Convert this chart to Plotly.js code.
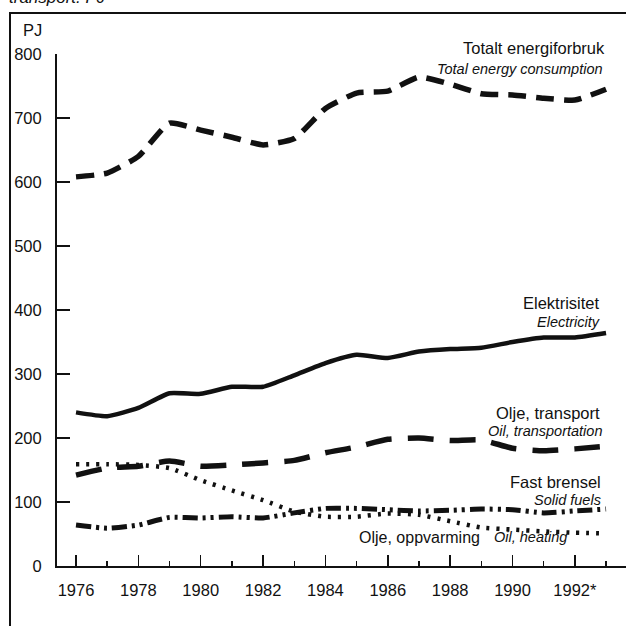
<!DOCTYPE html>
<html>
<head>
<meta charset="utf-8">
<script src="https://cdn.plot.ly/plotly-3.0.1.min.js"></script>
<style>
html,body{margin:0;padding:0;background:#fff;}
#chart{width:626px;height:626px;}
</style>
</head>
<body>
<div id="chart"></div>
<script>
// ---- data (PJ) ----
const years = [1976, 1977, 1978, 1979, 1980, 1981, 1982, 1983, 1984, 1985, 1986, 1987, 1988, 1989, 1990, 1991, 1992, 1993];
const totalEnergy = [608, 614, 640, 692, 681, 670, 658, 668, 715, 739, 742, 764, 753, 738, 736, 731, 728, 745];
const electricity = [240, 234, 247, 270, 269, 280, 280, 298, 317, 330, 325, 335, 339, 341, 350, 357, 357, 364];
const oilTransport = [142, 153, 156, 164, 156, 158, 161, 165, 177, 186, 198, 200, 196, 197, 184, 180, 183, 187];
const oilHeating = [159, 159, 158, 153, 134, 118, 103, 85, 77, 77, 82, 80, 70, 60, 57, 54, 52, 51];
const solidFuels = [64, 59, 64, 76, 75, 77, 75, 83, 90, 90, 88, 86, 87, 89, 88, 83, 86, 89];

const xTickVals = [1976, 1978, 1980, 1982, 1984, 1986, 1988, 1990, 1992];
const xTickText = ["1976", "1978", "1980", "1982", "1984", "1986", "1988", "1990", "1992*"];
const yTickVals = [0, 100, 200, 300, 400, 500, 600, 700, 800];
const yTickText = ["0", "100", "200", "300", "400", "500", "600", "700", "800"];

// ---- layout helpers (pixel -> paper) ----
const L = 57, T = 54, W = 569, H = 512;
const px = x => (x - L) / W;
const py = y => (T + H - y) / H;

const FONT = "Liberation Sans, Arial, sans-serif";
const INK = "#111";

function line(y, dash, width) {
  return {
    x: years, y: y, type: "scatter", mode: "lines",
    line: {color: INK, width: width, dash: dash, shape: "spline", smoothing: 0.5},
    hoverinfo: "skip"
  };
}

const data = [
  line(totalEnergy, "18px,10px", 5.5),
  line(electricity, "solid", 4.5),
  line(oilTransport, "26px,16px", 5.5),
  line(oilHeating, "3px,7px", 4.5),
  line(solidFuels, "15px,5px,3px,5px,3px,5px", 5)
];

function label(text, xr, yc, italic, size) {
  return {
    text: text, xref: "paper", yref: "paper", x: px(xr), y: py(yc),
    xanchor: "right", yanchor: "middle", showarrow: false,
    font: {family: FONT, size: size, color: INK, style: italic ? "italic" : "normal"}
  };
}

const annotations = [
  label("Totalt energiforbruk", 607, 48, false, 16.5),
  label("Total energy consumption", 605, 69, true, 14.5),
  label("Elektrisitet", 602, 303, false, 16.5),
  label("Electricity", 602, 322, true, 14.5),
  label("Olje, transport", 602, 413, false, 16.5),
  label("Oil, transportation", 604, 431, true, 14.5),
  label("Fast brensel", 603, 482, false, 16.5),
  label("Solid fuels", 603, 500, true, 14.5),
  label("Olje, oppvarming", 482, 537, false, 16),
  label("Oil, heating", 569, 537, true, 14.5),
  {
    text: "PJ", xref: "paper", yref: "paper", x: px(21), y: py(30),
    xanchor: "left", yanchor: "middle", showarrow: false,
    font: {family: FONT, size: 16.5, color: INK}
  },
  {
    text: "transport. PJ", xref: "paper", yref: "paper", x: px(7), y: py(-3),
    xanchor: "left", yanchor: "middle", showarrow: false,
    font: {family: FONT, size: 17, color: INK, style: "italic"}
  }
];

const shapes = [
  {type: "line", xref: "paper", yref: "paper", x0: px(10), x1: px(10), y0: py(13), y1: py(640),
   line: {color: INK, width: 2}},
  {type: "line", xref: "paper", yref: "paper", x0: px(9), x1: px(640), y0: py(13), y1: py(13),
   line: {color: INK, width: 2}}
];

const layout = {
  width: 626, height: 626,
  margin: {l: L, r: 626 - L - W, t: T, b: 626 - T - H, autoexpand: false},
  paper_bgcolor: "#fff", plot_bgcolor: "#fff",
  showlegend: false,
  xaxis: {
    range: [1975.39, 1993.64], showgrid: false, zeroline: false,
    showline: true, linecolor: INK, linewidth: 2,
    tickmode: "array", tickvals: xTickVals, ticktext: xTickText,
    ticks: "inside", ticklen: 11, tickwidth: 1.5, tickcolor: INK,
    minor: {tickmode: "linear", tick0: 1977, dtick: 2, ticks: "inside", ticklen: 5, tickwidth: 1.5, tickcolor: INK, showgrid: false},
    tickfont: {family: FONT, size: 16.5, color: INK},
    ticklabelstandoff: 8,
    fixedrange: true
  },
  yaxis: {
    range: [0, 800], showgrid: false, zeroline: false,
    showline: true, linecolor: INK, linewidth: 2,
    tickmode: "array", tickvals: yTickVals, ticktext: yTickText,
    ticks: "inside", ticklen: 13, tickwidth: 1.5, tickcolor: INK,
    tickfont: {family: FONT, size: 16.5, color: INK},
    ticklabelstandoff: 10,
    fixedrange: true
  },
  annotations: annotations,
  shapes: shapes
};

Plotly.newPlot("chart", data, layout, {staticPlot: true, displayModeBar: false});
</script>
</body>
</html>
